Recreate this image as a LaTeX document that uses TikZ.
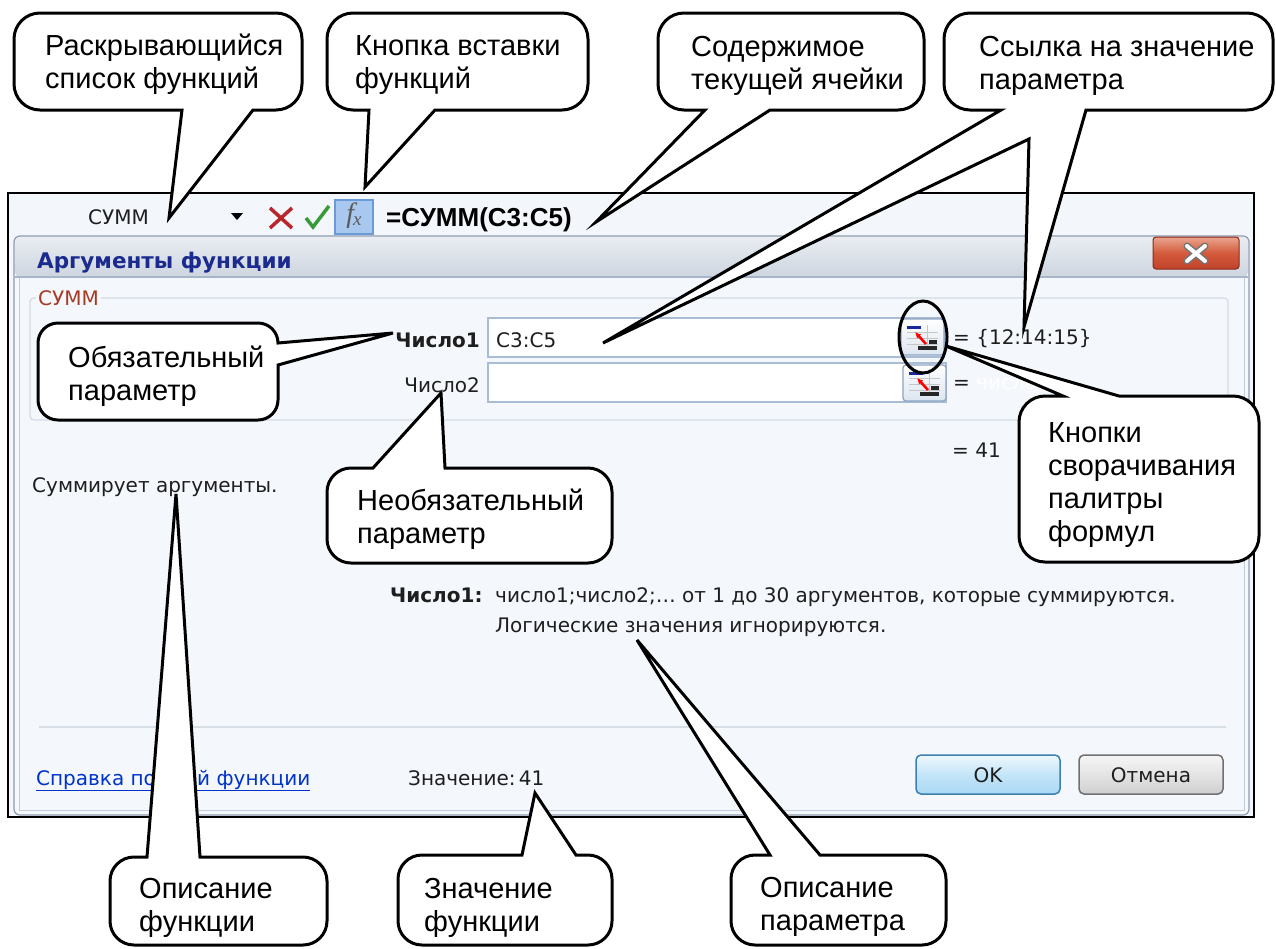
\documentclass[tikz,border=0pt]{standalone}
\usepackage{fontspec}
\setmainfont{Liberation Sans}
\newfontfamily\dlg{DejaVu Sans}
\newfontfamily\serifit{Liberation Serif}
\usetikzlibrary{arrows.meta}
\definecolor{xlbg}{HTML}{F3F6FA}
\definecolor{body}{HTML}{F4F7FB}
\definecolor{frameg}{HTML}{8E9BAE}
\definecolor{innerf}{HTML}{C3CDD9}
\definecolor{titletop}{HTML}{E9EDF2}
\definecolor{titlebot}{HTML}{CDD5DF}
\definecolor{titleline}{HTML}{A7B6C8}
\definecolor{navy}{HTML}{1B2A8E}
\definecolor{grplab}{HTML}{A63A22}
\definecolor{grpline}{HTML}{D3DBE5}
\definecolor{sepcol}{HTML}{D6DEE6}
\definecolor{inbord}{HTML}{A9BCD6}
\definecolor{linkc}{HTML}{0033CC}
\definecolor{dtxt}{HTML}{1E1E1E}
\definecolor{btnb}{HTML}{8DA3BF}
\definecolor{btnbot}{HTML}{DCE5F0}
\definecolor{navyic}{HTML}{1A2A9A}
\definecolor{okb}{HTML}{3C7FB1}
\definecolor{okt}{HTML}{EEF8FE}
\definecolor{okm}{HTML}{C4E5F8}
\definecolor{okbot}{HTML}{A9D8F4}
\definecolor{cab}{HTML}{707070}
\definecolor{cat}{HTML}{F6F6F6}
\definecolor{cam}{HTML}{E4E4E4}
\definecolor{cabot}{HTML}{CFCFCF}
\definecolor{closet}{HTML}{E9A58E}
\definecolor{closem}{HTML}{D45A3C}
\definecolor{closebot}{HTML}{C0432A}
\definecolor{closeb}{HTML}{8A2A1A}
\definecolor{xred}{HTML}{B8262B}
\definecolor{xgreen}{HTML}{3A9A3A}
\definecolor{fxfill}{HTML}{A8C8F0}
\definecolor{fxb}{HTML}{6A9AD8}

% rounded callout: #1 x1, #2 y1, #3 x2, #4 y2, #5 top tail, #6 right tail, #7 bottom tail, #8 left tail, #9 radius
\newcommand\bubble[9]{%
  \filldraw[bub] (#1+#9,#2) #5 -- (#3-#9,#2)
    .. controls (#3-#9*0.448,#2) and (#3,#2+#9*0.448) .. (#3,#2+#9) #6 -- (#3,#4-#9)
    .. controls (#3,#4-#9*0.448) and (#3-#9*0.448,#4) .. (#3-#9,#4) #7 -- (#1+#9,#4)
    .. controls (#1+#9*0.448,#4) and (#1,#4-#9*0.448) .. (#1,#4-#9) #8 -- (#1,#2+#9)
    .. controls (#1,#2+#9*0.448) and (#1+#9*0.448,#2) .. (#1+#9,#2) -- cycle;}

% collapse button icon, top-left corner at (#1,#2)
\newcommand\cbtn[2]{%
  \draw[draw=btnb, top color=white, bottom color=btnbot, rounded corners=3, line width=1.2] (#1,#2) rectangle (#1+43,#2+36);
  \draw[gray!45, line width=0.8] (#1+6,#2+13) -- (#1+37,#2+13) (#1+6,#2+19) -- (#1+37,#2+19)
     (#1+6,#2+25) -- (#1+37,#2+25) (#1+26,#2+6) -- (#1+26,#2+31);
  \fill[navyic] (#1+6,#2+7) rectangle (#1+20,#2+10);
  \fill[black!85] (#1+28,#2+21) rectangle (#1+36,#2+25);
  \fill[black!85] (#1+17,#2+27) rectangle (#1+36,#2+31);
  \draw[red, line width=2.6, -{Latex[length=6pt,width=6pt]}] (#1+25,#2+25) -- (#1+14,#2+13);}

\begin{document}
\begin{tikzpicture}[x=1pt,y=-1pt,
  bub/.style={draw=black, fill=white, line width=3},
  ctext/.style={anchor=north west, inner sep=0, align=left, font=\fontsize{29}{33}\selectfont},
  dtext/.style={anchor=base west, inner sep=0, text=dtxt, font=\dlg\fontsize{20}{24}\selectfont},
  dbold/.style={dtext, font=\dlg\bfseries\fontsize{20}{24}\selectfont}]
\useasboundingbox (0,0) rectangle (1276,948);
\fill[white] (0,0) rectangle (1276,948);

% Excel window frame and formula bar
\filldraw[fill=xlbg, draw=black, line width=1.4] (8,193) rectangle (1254,817);
\node[dtext] (namebox) at (88,224) {СУММ};
\fill[black] (231,213) -- (243,213) -- (237,220) -- cycle;
\draw[xred, line width=3.5] (270,208) -- (292,228) (292,208) -- (270,228);
\draw[xgreen, line width=3.5] (306,218) -- (313,227) -- (329,206);
\filldraw[fill=fxfill, draw=fxb, line width=1.2] (335,200) rectangle (373,234);
\node[inner sep=0, text=black!65, font=\serifit\itshape\fontsize{28}{28}\selectfont] (fx) at (354,216) {f\kern-1pt\raisebox{-3pt}{\fontsize{19}{19}\selectfont x}};
\node[anchor=base west, inner sep=0, font=\bfseries\fontsize{26}{30}\selectfont] (formula) at (386,226) {=СУММ(C3:C5)};

% dialog window
\fill[body, rounded corners=6] (14,236) rectangle (1249,815);
\shade[top color=titletop, bottom color=titlebot, rounded corners=5] (15,237) rectangle (1248,277);
\draw[frameg, line width=1.2, rounded corners=6] (14,236) rectangle (1249,815);
\draw[titleline, line width=1.2] (15,277) -- (1248,277);
\draw[innerf, line width=1] (19,278) -- (19,810) -- (1244,810) -- (1244,278);
\node[anchor=base west, inner sep=0, text=navy, font=\dlg\bfseries\fontsize{21.5}{25}\selectfont] (title) at (37,268) {Аргументы функции};
\draw[draw=closeb, top color=closet, bottom color=closebot, middle color=closem, rounded corners=3, line width=1] (1153,237) rectangle (1239,269);
\draw[line width=7, black!55, line cap=round] (1187,246) -- (1205,261) (1205,246) -- (1187,261);
\draw[line width=4, white, line cap=round] (1187,246) -- (1205,261) (1205,246) -- (1187,261);

% group box
\draw[grpline, line width=1.2, rounded corners=4] (30,298) rectangle (1228,420);
\node[dtext, text=grplab, fill=body, inner xsep=2pt] (grp) at (36,305) {СУММ};
\node[dbold, anchor=base east] (arg1) at (480,347) {Число1};
\node[dtext, anchor=base east] (arg2) at (480,392) {Число2};
\filldraw[fill=white, draw=inbord, line width=1.5] (488,318) rectangle (944,357);
\filldraw[fill=white, draw=inbord, line width=1.5] (488,363) rectangle (946,402);
\node[dtext] (ref) at (496,347) {C3:C5};
\cbtn{901}{319}
\cbtn{903}{365}
\node[dtext] (val1) at (953,344) {= \{12:14:15\}};
\node[dtext] (eq2) at (953,389) {=};
\node[dtext, text=white] (ph) at (976,389) {число};
\node[dtext] (res) at (952,457) {= 41};
\node[dtext] (desc) at (32,492) {Суммирует аргументы.};
\node[dbold] (pname) at (390,602) {Число1:};
\node[dtext] (pdesc1) at (495,602) {число1;число2;… от 1 до 30 аргументов, которые суммируются.};
\node[dtext] (pdesc2) at (495,632) {Логические значения игнорируются.};
\draw[sepcol, line width=1.2] (39,727) -- (1226,727);
\node[dtext, text=linkc] (help) at (36,785) {\underline{Справка по этой функции}};
\node[dtext] (value) at (408,785) {Значение:\,41};
\draw[draw=okb, line width=1.5, rounded corners=5, top color=okt, bottom color=okbot, middle color=okm] (916,755) rectangle (1060,794);
\draw[draw=cab, line width=1.5, rounded corners=5, top color=cat, bottom color=cabot, middle color=cam] (1079,755) rectangle (1223,794);
\node[dtext, anchor=center] (ok) at (988,775) {OK};
\node[dtext, anchor=center] (cancel) at (1151,775) {Отмена};

% tail tips
\coordinate (tA) at (169,218);
\coordinate (tB) at (365,187);
\coordinate (tC) at (596,222);
\coordinate (tD1) at (603,343);
\coordinate (tDj) at (1029,139);
\coordinate (tD2) at (1024,327);
\coordinate (tE) at (393,333);
\coordinate (tF) at (441,393);
\coordinate (tG) at (176,494);
\coordinate (tH) at (535,793);
\coordinate (tI) at (637,640);
\coordinate (tJ) at (946,346);

% callouts
\bubble{14}{13}{302}{110}{}{}{-- (253,110) -- (tA) -- (182,110)}{}{26}
\bubble{327}{13}{588}{110}{}{}{-- (435,110) -- (tB) -- (369,110)}{}{26}
\bubble{658}{13}{924}{110}{}{}{-- (770,110) -- (tC) -- (705,110)}{}{26}
\bubble{944}{13}{1273}{110}{}{}{-- (1086,110) -- (tD2) -- (tDj) -- (tD1) -- (1001,110)}{}{26}
\bubble{38}{323}{278}{420}{}{-- (278,343) -- (tE) -- (278,365)}{}{}{20}
\bubble{327}{468}{612}{563}{-- (373,468) -- (tF) -- (445,468)}{}{}{}{24}
\bubble{110}{857}{327}{945}{-- (147,857) -- (tG) -- (200,857)}{}{}{}{24}
\bubble{398}{855}{612}{945}{-- (522,855) -- (tH) -- (576,855)}{}{}{}{24}
\bubble{731}{855}{946}{945}{-- (770,855) -- (tI) -- (820,855)}{}{}{}{24}
\bubble{1019}{396}{1259}{562}{-- (1063,396) -- (tJ) -- (1119,396)}{}{}{}{26}

\node[ctext] (c1) at (45,27) {\rule{0pt}{28pt}Раскрывающийся\\список функций};
\node[ctext] (c2) at (355,27) {\rule{0pt}{28pt}Кнопка вставки\\функций};
\node[ctext] (c3) at (691,28) {\rule{0pt}{28pt}Содержимое\\текущей ячейки};
\node[ctext] (c4) at (979,28) {\rule{0pt}{28pt}Ссылка на значение\\параметра};
\node[ctext] (c5) at (68,339) {\rule{0pt}{28pt}Обязательный\\параметр};
\node[ctext] (c6) at (357,482) {\rule{0pt}{28pt}Необязательный\\параметр};
\node[ctext] (c7) at (139,870) {\rule{0pt}{28pt}Описание\\функции};
\node[ctext] (c8) at (424,870) {\rule{0pt}{28pt}Значение\\функции};
\node[ctext] (c9) at (760,869) {\rule{0pt}{28pt}Описание\\параметра};
\node[ctext] (c10) at (1048,414) {\rule{0pt}{28pt}Кнопки\\сворачивания\\палитры\\формул};

% highlight of the collapse button
\draw[black, line width=3] (923,337) ellipse [x radius=24, y radius=36];
\end{tikzpicture}
\end{document}
